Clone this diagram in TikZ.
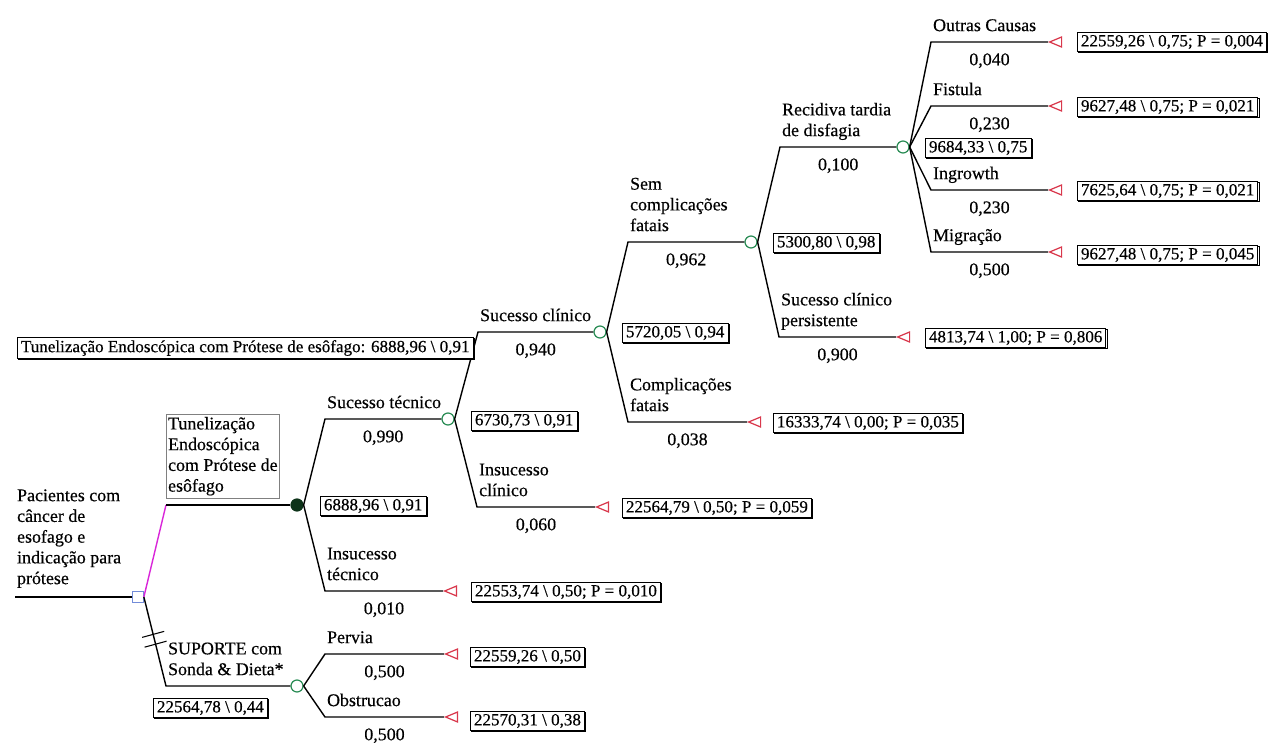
\documentclass[tikz,border=0pt]{standalone}
\usepackage{fontspec}
\setmainfont{Liberation Serif}[FakeBold=0.4]
\usepackage{tikz}
\usetikzlibrary{shapes,shadows,calc}
\definecolor{chancegreen}{rgb}{0.16,0.55,0.33}
\definecolor{chancedark}{rgb}{0.05,0.20,0.10}
\definecolor{termred}{rgb}{0.85,0.22,0.30}
\definecolor{decblue}{rgb}{0.45,0.55,0.85}
\definecolor{optmagenta}{rgb}{0.85,0.15,0.85}
\newcommand{\treelabelfont}{\fontsize{10.2pt}{11.8pt}\selectfont}
\newcommand{\treeboxfont}{\fontsize{9.7pt}{11pt}\selectfont}
\tikzstyle{treeline}=[draw, line width=0.8pt]
\tikzstyle{optline}=[draw=optmagenta, line width=0.8pt]
\tikzstyle{decision}=[rectangle, draw=decblue, fill=white, line width=0.7pt, minimum size=0.21cm, inner sep=0pt]
\tikzstyle{chance}=[circle, draw=chancegreen, fill=white, line width=0.7pt, minimum size=0.24cm, inner sep=0pt]
\tikzstyle{chancefilled}=[chance, draw=chancedark, fill=chancedark]
\tikzstyle{terminal}=[isosceles triangle, isosceles triangle stretches, shape border rotate=180, draw=termred, fill=white, line width=0.7pt, minimum height=0.24cm, minimum width=0.2cm, inner sep=0pt, anchor=apex]
\tikzstyle{brlabel}=[anchor=south west, align=left, inner xsep=1pt, inner ysep=3.5pt, text depth=0.25em, font=\treelabelfont]
\tikzstyle{optlabel}=[brlabel, draw=gray, line width=0.4pt, inner ysep=1.5pt]
\tikzstyle{brprob}=[anchor=north, inner sep=0pt, font=\treelabelfont]
\tikzstyle{valbox}=[rectangle, draw, fill=white, line width=0.5pt, inner xsep=2pt, inner ysep=1.5pt, anchor=west, font=\treeboxfont, copy shadow={shadow xshift=0.7pt, shadow yshift=-0.7pt, draw=black, line width=0.6pt, fill=white}]
\newcommand{\branch}[6]{
	\coordinate (#2) at (#3);
	\draw[treeline] (#1) -- (#2) -- (#4);
	\node[brlabel] (#2-l) at (#2) {#5};
	\node[brprob] (#2-p) at ($(#2)!0.5!(#4)+(0,11)$) {#6};}
\newcommand{\valbox}[3]{
	\node[valbox] (#1) at (#2) {#3};}

\begin{document}
\begin{tikzpicture}[x=0.02cm, y=-0.02cm]
	\useasboundingbox (0,0) rectangle (1274,743);

	% decision and chance nodes
	\node[decision] (root) at (138,597) {};
	\node[chancefilled] (c1) at (297,505) {};
	\node[chance] (c2) at (448,419) {};
	\node[chance] (c3) at (600,332) {};
	\node[chance] (c4) at (751,242) {};
	\node[chance] (c5) at (903,147) {};
	\node[chance] (c6) at (297,686) {};

	% terminal nodes
	\node[terminal] (t1) at (443,591) {};
	\node[terminal] (t2) at (595,507) {};
	\node[terminal] (t3) at (747,422) {};
	\node[terminal] (t4) at (896,337) {};
	\node[terminal] (t5) at (1048,42) {};
	\node[terminal] (t6) at (1048,106) {};
	\node[terminal] (t7) at (1048,190) {};
	\node[terminal] (t8) at (1048,252) {};
	\node[terminal] (t9) at (444,654) {};
	\node[terminal] (t10) at (444,717) {};

	% root
	\coordinate (start) at (15,597);
	\draw[treeline] (start) -- (root);
	\node[brlabel] (start-l) at ($(start)+(0,-2)$) {Pacientes com\\câncer de\\esofago e\\indicação para\\prótese};

	% strategies
	\coordinate (tun) at (166,505);
	\draw[optline] (root.east) -- (tun);
	\draw[treeline] (tun) -- (c1.west);
	\node[optlabel] (tun-l) at ($(tun)+(0,-6)$) {Tunelização\\Endoscópica\\com Prótese de\\esôfago};

	\coordinate (sup) at (166,686);
	\draw[treeline] (root.east) -- (sup) -- (c6.west);
	\node[brlabel] (sup-l) at (sup) {SUPORTE com\\Sonda \& Dieta*};
	\coordinate (cut1) at ($(root.east)!0.42!(sup)$);
	\coordinate (cut2) at ($(root.east)!0.53!(sup)$);
	\draw[line width=0.6pt] ($(cut1)+(-11,3)$) -- ++(22,-6);
	\draw[line width=0.6pt] ($(cut2)+(-11,3)$) -- ++(22,-6);

	% branches
	\branch{c1.east}{suctec}{325,419}{c2.west}{Sucesso técnico}{0,990}
	\branch{c1.east}{insuctec}{325,591}{t1.apex}{Insucesso\\técnico}{0,010}
	\branch{c2.east}{succli}{478,332}{c3.west}{Sucesso clínico}{0,940}
	\branch{c2.east}{insuccli}{477,507}{t2.apex}{Insucesso\\clínico}{0,060}
	\branch{c3.east}{semcomp}{628,242}{c4.west}{Sem\\complicações\\fatais}{0,962}
	\branch{c3.east}{compfat}{628,422}{t3.apex}{Complicações\\fatais}{0,038}
	\branch{c4.east}{recid}{780,147}{c5.west}{Recidiva tardia\\de disfagia}{0,100}
	\branch{c4.east}{persist}{779,337}{t4.apex}{Sucesso clínico\\persistente}{0,900}
	\branch{c5.east}{outras}{931,42}{t5.apex}{Outras Causas}{0,040}
	\branch{c5.east}{fistula}{931,106}{t6.apex}{Fistula}{0,230}
	\branch{c5.east}{ingrowth}{931,190}{t7.apex}{Ingrowth}{0,230}
	\branch{c5.east}{migr}{931,252}{t8.apex}{Migração}{0,500}
	\branch{c6.east}{pervia}{325,654}{t9.apex}{Pervia}{0,500}
	\branch{c6.east}{obstr}{325,717}{t10.apex}{Obstrucao}{0,500}

	% values
	\valbox{v-tun}{17,348}{Tunelização Endoscópica com Prótese de esôfago: 6888,96 \textbackslash{} 0,91}
	\valbox{v-c1}{320,506}{6888,96 \textbackslash{} 0,91}
	\valbox{v-c2}{471,421}{6730,73 \textbackslash{} 0,91}
	\valbox{v-c3}{622,333}{5720,05 \textbackslash{} 0,94}
	\valbox{v-c4}{773,243}{5300,80 \textbackslash{} 0,98}
	\valbox{v-c5}{925,148}{9684,33 \textbackslash{} 0,75}
	\valbox{v-c6}{153,708}{22564,78 \textbackslash{} 0,44}
	\valbox{v-t1}{471,592}{22553,74 \textbackslash{} 0,50; P = 0,010}
	\valbox{v-t2}{622,508}{22564,79 \textbackslash{} 0,50; P = 0,059}
	\valbox{v-t3}{773,423}{16333,74 \textbackslash{} 0,00; P = 0,035}
	\valbox{v-t4}{925,338}{4813,74 \textbackslash{} 1,00; P = 0,806}
	\valbox{v-t5}{1077,42}{22559,26 \textbackslash{} 0,75; P = 0,004}
	\valbox{v-t6}{1077,107}{9627,48 \textbackslash{} 0,75; P = 0,021}
	\valbox{v-t7}{1077,191}{7625,64 \textbackslash{} 0,75; P = 0,021}
	\valbox{v-t8}{1077,255}{9627,48 \textbackslash{} 0,75; P = 0,045}
	\valbox{v-t9}{470,657}{22559,26 \textbackslash{} 0,50}
	\valbox{v-t10}{470,721}{22570,31 \textbackslash{} 0,38}
\end{tikzpicture}
\end{document}
